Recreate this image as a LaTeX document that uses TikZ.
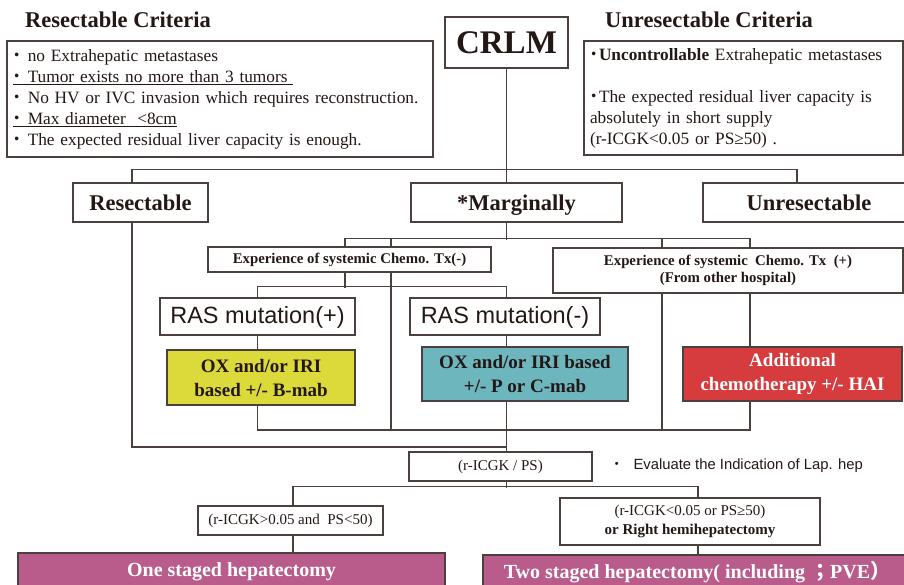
\documentclass[tikz,border=0pt]{standalone}
\usepackage{fontspec}
\setmainfont{Liberation Serif}
\newfontfamily\sansf{Liberation Sans}
\newfontfamily\rasfont{Liberation Sans}
\newfontfamily\cjk{Noto Sans CJK JP}
\usepackage{xcolor}
\usepackage{tikz}
\usetikzlibrary{calc}
\definecolor{ink}{HTML}{231815}
\definecolor{edge}{HTML}{4A403D}
\definecolor{yellowbox}{HTML}{DCD93B}
\definecolor{tealbox}{HTML}{6DB6BE}
\definecolor{redbox}{HTML}{D63B3D}
\definecolor{plumbox}{HTML}{B95C8C}
\newcommand{\bul}{\makebox[9pt]{\cjk ・}}
\tikzset{
  link/.style={draw=edge, line width=1.3pt},
  wh/.style 2 args={minimum width=#1pt, minimum height=#2pt},
  box/.style={draw=edge, line width=1.3pt, fill=white, text=ink, inner sep=0pt, align=center},
  head/.style={text=ink, inner sep=0pt, font=\bfseries\fontsize{22.5}{26}\selectfont},
  crit/.style={box, align=left, inner xsep=6pt, font=\fontsize{17.3}{21}\selectfont},
  big/.style={box, text height=16pt, text depth=0pt, font=\bfseries\fontsize{22.5}{26}\selectfont},
  small/.style={box, font=\bfseries\fontsize{14.8}{17}\selectfont},
  ras/.style={box, text height=16pt, text depth=3pt, font=\rasfont\fontsize{23.5}{26}\selectfont},
  drug/.style={box, font=\bfseries\fontsize{19}{24}\selectfont},
  cond/.style={box, font=\fontsize{15}{19}\selectfont},
  plum/.style={box, fill=plumbox, text=white, font=\bfseries\fontsize{20}{24}\selectfont},
  note/.style={text=ink, inner sep=0pt, font=\sansf\fontsize{14.8}{17}\selectfont}
}
\begin{document}
\begin{tikzpicture}[x=1pt,y=-1pt]
  \clip (0,0) rectangle (904,585);
  \fill[white] (0,0) rectangle (904,585);

  \node[head, anchor=west] (rtitle) at (25,20) {Resectable Criteria};
  \node[head, anchor=west] (utitle) at (605,20) {Unresectable Criteria};
  \node[crit, wh={426}{116}, text width=414pt] (rcrit) at (220,99) {%
    \bul\ no Extrahepatic metastases\\
    \underline{\bul\ Tumor exists no more than 3 tumors\ }\\
    \bul\ No HV or IVC invasion which requires reconstruction.\\
    \underline{\bul\ Max diameter \ <8cm}\\
    \bul\ The expected residual liver capacity is enough.};
  \node[crit, wh={319}{114}, text width=307pt] (ucrit) at (743.5,98) {%
    \bul\textbf{Uncontrollable} Extrahepatic metastases\\
    ~\\
    \bul The expected residual liver capacity is\\
    absolutely in short supply\\
    (r-ICGK<0.05 or PS≥50) .};
  \node[box, wh={123}{51}, font=\bfseries\fontsize{33}{36}\selectfont] (crlm) at (506.5,42.5) {CRLM};

  \node[big, wh={135}{39}] (res) at (140.5,202.5) {Resectable};
  \node[big, wh={211}{39}] (marg) at (516.5,202.5) {*Marginally};
  \node[big, wh={212}{39}] (unres) at (809,202.5) {Unresectable};

  \node[small, wh={283}{25}] (expn) at (349.5,259.5) {Experience of systemic Chemo. Tx(-)};
  \node[small, wh={350}{45}] (expp) at (728,270.5) {Experience of systemic \ Chemo. Tx \ (+)\\(From other hospital)};

  \node[ras, wh={195}{37}] (rasp) at (257.5,316.5) {RAS mutation(+)};
  \node[ras, wh={190}{37}] (rasn) at (505,316.5) {RAS mutation(-)};

  \node[drug, wh={188}{55}, fill=yellowbox] (oxb) at (261,377.5) {OX and/or IRI\\based +/- B-mab};
  \node[drug, wh={206}{54}, fill=tealbox] (oxp) at (525,374) {OX and/or IRI based\\+/- P or C-mab};
  \node[drug, wh={219}{54}, fill=redbox, text=white] (addc) at (792.5,374) {Additional\\chemotherapy +/- HAI};

  \node[cond, wh={183}{29}] (eval) at (500.5,466.5) {(r-ICGK / PS)};
  \node[note, anchor=west] (lap) at (612,466) {\bul\ \ \ Evaluate the Indication of Lap. hep};
  \node[cond, wh={185}{29}] (condl) at (290.5,520.5) {(r-ICGK>0.05 and \ PS<50)};
  \node[cond, wh={260}{47}] (condr) at (690,521.5) {(r-ICGK<0.05 or PS≥50)\\\textbf{or Right hemihepatectomy}};

  \node[plum, wh={427}{38}] (one) at (231.5,572) {One staged hepatectomy};
  \node[plum, wh={428}{34}] (two) at (697,572) {Two staged hepatectomy( including {\cjk ；}PVE{\cjk ）}};

  \coordinate (busC) at (0,430);
  \coordinate (busD) at (0,447);
  \draw[link] (crlm.south) -- ++(0,102);
  \draw[link] ([xshift=-8.5]res.north) -- ++(0,-13) -| ([xshift=-12]unres.north);
  \draw[link] (marg.north -| crlm.south) -- ++(0,-13);
  \draw[link] (marg.south -| crlm.south) -- ++(0,17);
  \draw[link] ([xshift=-4.5]expn.north) -- ++(0,-8) -| ([xshift=22]expp.north);
  \draw[link] ([xshift=41.5]expn.north) -- ++(0,-8);
  \draw[link] ([xshift=-66]expp.north) -- ++(0,-9);
  \draw[link] ([xshift=-4.5]expn.south) -- ++(0,15);
  \draw[link] (rasp.north) -- ++(0,-11) -| (rasn.north -| crlm.south);
  \draw[link] ([xshift=41.5]expn.south) -- ([xshift=41.5]expn.south |- busC);
  \draw[link] (rasp.south) -- (rasp.south |- oxb.north);
  \draw[link] (rasn.south -| crlm.south) -- (oxp.north -| crlm.south);
  \draw[link] ([xshift=22]expp.south) coordinate (xg) -- (xg |- addc.north);
  \draw[link] (oxb.south -| rasp.south) -- (rasp.south |- busC) -| (xg |- addc.south);
  \draw[link] ([xshift=-66]expp.south) -- ([xshift=-66]expp.south |- busC);
  \draw[link] (oxp.south -| crlm.south) -- (eval.north -| crlm.south);
  \draw[link] ([xshift=-8.5]res.south) |- (crlm.south |- busD);
  \draw[link] (eval.south -| crlm.south) -- ++(0,6);
  \draw[link] ([xshift=2.5]condl.north) -- ++(0,-19) -| ([xshift=8]condr.north);
  \draw[link] ([xshift=2.5]condl.south) -- ([xshift=2.5]condl.south |- one.north);
  \draw[link] ([xshift=8]condr.south) -- ([xshift=8]condr.south |- two.north);
\end{tikzpicture}
\end{document}
